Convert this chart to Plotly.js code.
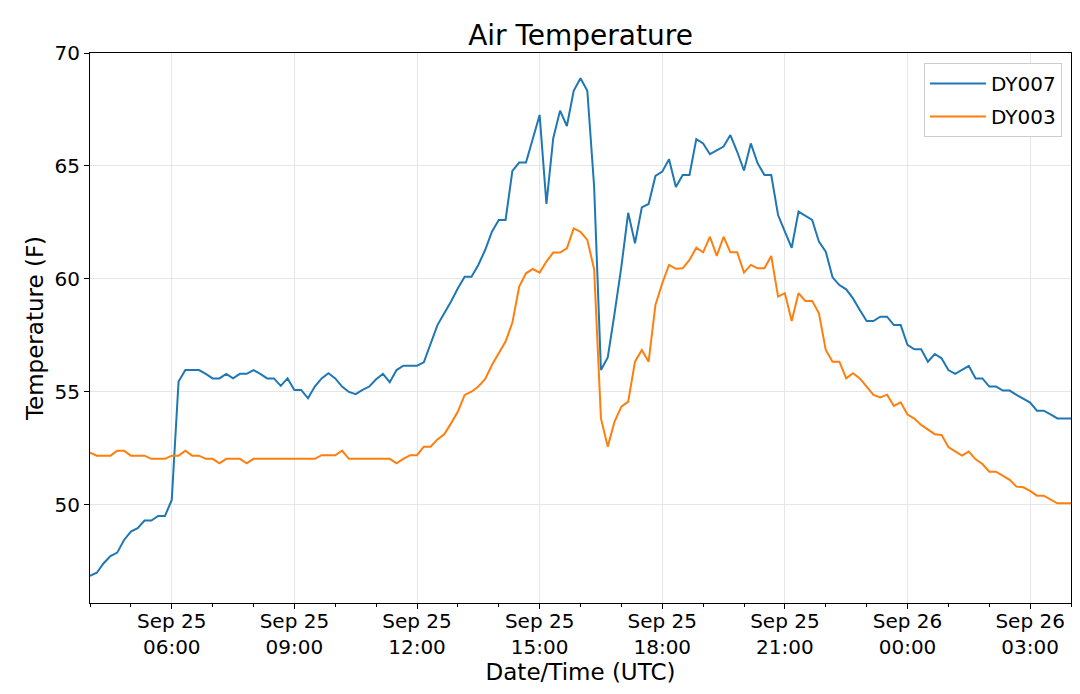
<!DOCTYPE html>
<html>
<head>
<meta charset="utf-8">
<script src="https://cdn.plot.ly/plotly-3.0.1.min.js"></script>
<style>
  html, body { margin: 0; padding: 0; background: #fff; }
  #chart { width: 1080px; height: 694px; }
</style>
</head>
<body>
<div id="chart"></div>
<script>
// readings every 10 minutes, Sep 25 04:00 -> Sep 26 04:00 (UTC)
const startTime = Date.UTC(2019, 8, 25, 4, 0);
const stepMinutes = 10;

// DY007 air temperature (F)
const dy007 = [
  46.86, 47.00, 47.42, 47.74, 47.89, 48.45, 48.82, 48.97, 49.31, 49.31,
  49.51, 49.51, 50.22, 55.46, 55.97, 55.97, 55.97, 55.80, 55.60, 55.60,
  55.80, 55.60, 55.80, 55.80, 55.97, 55.80, 55.60, 55.60, 55.27, 55.60,
  55.09, 55.09, 54.72, 55.24, 55.60, 55.83, 55.60, 55.24, 55.00, 54.90,
  55.09, 55.24, 55.56, 55.80, 55.43, 55.97, 56.16, 56.16, 56.16, 56.31,
  57.15, 57.96, 58.48, 59.00, 59.59, 60.10, 60.10, 60.62, 61.28, 62.09,
  62.61, 62.61, 64.78, 65.15, 65.15, 66.15, 67.26, 63.32, 66.23, 67.45,
  66.77, 68.33, 68.88, 68.33, 64.09, 55.97, 56.53, 58.48, 60.55, 62.93,
  61.58, 63.17, 63.32, 64.56, 64.75, 65.30, 64.07, 64.60, 64.60, 66.19,
  66.00, 65.52, 65.68, 65.86, 66.37, 65.63, 64.80, 66.00, 65.12, 64.60,
  64.60, 62.83, 62.09, 61.38, 62.98, 62.79, 62.61, 61.65, 61.21, 60.07,
  59.73, 59.54, 59.14, 58.63, 58.14, 58.14, 58.33, 58.33, 57.96, 57.96,
  57.08, 56.89, 56.89, 56.34, 56.68, 56.49, 55.97, 55.80, 55.97, 56.15,
  55.60, 55.60, 55.24, 55.24, 55.06, 55.06, 54.87, 54.69, 54.53, 54.17,
  54.17, 54.01, 53.83, 53.83, 53.83
];

// DY003 air temperature (F)
const dy003 = [
  52.31, 52.18, 52.18, 52.18, 52.40, 52.40, 52.18, 52.18, 52.18, 52.04,
  52.04, 52.04, 52.18, 52.18, 52.40, 52.18, 52.18, 52.04, 52.04, 51.84,
  52.04, 52.04, 52.04, 51.84, 52.04, 52.04, 52.04, 52.04, 52.04, 52.04,
  52.04, 52.04, 52.04, 52.04, 52.20, 52.20, 52.20, 52.40, 52.04, 52.04,
  52.04, 52.04, 52.04, 52.04, 52.04, 51.84, 52.04, 52.20, 52.20, 52.58,
  52.58, 52.90, 53.13, 53.61, 54.13, 54.87, 55.01, 55.24, 55.56, 56.19,
  56.71, 57.23, 58.07, 59.66, 60.25, 60.44, 60.28, 60.77, 61.17, 61.17,
  61.36, 62.24, 62.09, 61.73, 60.43, 53.83, 52.58, 53.69, 54.35, 54.57,
  56.34, 56.86, 56.34, 58.85, 59.81, 60.62, 60.45, 60.47, 60.84, 61.38,
  61.18, 61.87, 61.02, 61.87, 61.18, 61.18, 60.28, 60.62, 60.47, 60.47,
  61.02, 59.22, 59.37, 58.14, 59.37, 59.03, 59.03, 58.48, 56.86, 56.34,
  56.34, 55.60, 55.83, 55.60, 55.24, 54.87, 54.76, 54.88, 54.38, 54.54,
  54.00, 53.82, 53.54, 53.32, 53.13, 53.10, 52.56, 52.37, 52.18, 52.36,
  52.02, 51.81, 51.47, 51.47, 51.30, 51.11, 50.81, 50.78, 50.62, 50.41,
  50.41, 50.25, 50.07, 50.07, 50.07
];

// x tick positions and labels
const tickVals = [
  '2019-09-25 06:00', '2019-09-25 09:00', '2019-09-25 12:00', '2019-09-25 15:00',
  '2019-09-25 18:00', '2019-09-25 21:00', '2019-09-26 00:00', '2019-09-26 03:00'
];
const tickText = [
  'Sep 25<br>06:00', 'Sep 25<br>09:00', 'Sep 25<br>12:00', 'Sep 25<br>15:00',
  'Sep 25<br>18:00', 'Sep 25<br>21:00', 'Sep 26<br>00:00', 'Sep 26<br>03:00'
];
const yTicks = [50, 55, 60, 65, 70];

// time stamps for each reading
function makeTimes(n){
    const out = [];
    for (let i = 0; i < n; i++){
        const d = new Date(startTime + i * stepMinutes * 60000);
        out.push(d.toISOString().slice(0, 16).replace('T', ' '));
    }
    return out;
}
const times = makeTimes(dy007.length);

const font = 'DejaVu Sans, sans-serif';

const trace1 = {
    x: times, y: dy007, type: 'scatter', mode: 'lines', name: 'DY007',
    legendgroup: 'a',
    line: {color: '#1f77b4', width: 2}
};
const trace2 = {
    x: times, y: dy003, type: 'scatter', mode: 'lines', name: 'DY003',
    legendgroup: 'b',
    line: {color: '#ff7f0e', width: 2}
};

const layout = {
    width: 1080, height: 694,
    margin: {l: 90, r: 9, t: 53, b: 91},
    paper_bgcolor: '#fff', plot_bgcolor: '#fff',
    font: {family: font, size: 20, color: '#000'},
    title: {
        text: 'Air Temperature',
        font: {family: font, size: 28, color: '#000'},
        x: 0.5, xref: 'paper', y: 0.95, yref: 'container', yanchor: 'middle'
    },
    xaxis: {
        type: 'date',
        range: ['2019-09-25 04:00', '2019-09-26 04:00'],
        tickmode: 'array', tickvals: tickVals, ticktext: tickText,
        ticks: 'outside', ticklen: 5, tickwidth: 1, tickcolor: '#000',
        ticklabelstandoff: -5,
        minor: {ticks: 'outside', ticklen: 3, tickcolor: '#000', dtick: 3600000,
                tick0: '2019-09-25 04:00', showgrid: false},
        showline: true, mirror: true, linecolor: '#000', linewidth: 1,
        showgrid: true, gridcolor: '#e6e6e6', gridwidth: 1,
        zeroline: false,
        tickfont: {family: font, size: 20, color: '#000'},
        title: {text: 'Date/Time (UTC)', font: {family: font, size: 23, color: '#000'}, standoff: 0}
    },
    yaxis: {
        range: [45.66, 70],
        tickmode: 'array', tickvals: yTicks,
        ticks: 'outside', ticklen: 5, tickwidth: 1, tickcolor: '#000',
        showline: true, mirror: true, linecolor: '#000', linewidth: 1,
        showgrid: true, gridcolor: '#e6e6e6', gridwidth: 1,
        zeroline: false,
        tickfont: {family: font, size: 20, color: '#000'},
        title: {text: 'Temperature (F)', font: {family: font, size: 23, color: '#000'}, standoff: 4}
    },
    legend: {
        x: 0.9908, xanchor: 'right', y: 0.982, yanchor: 'top',
        bgcolor: '#fff', bordercolor: '#cccccc', borderwidth: 1,
        font: {family: font, size: 20, color: '#000'},
        traceorder: 'grouped', tracegroupgap: 4, itemwidth: 56
    },
    showlegend: true
};

Plotly.newPlot('chart', [trace1, trace2], layout, {staticPlot: true, displayModeBar: false});
</script>
</body>
</html>
